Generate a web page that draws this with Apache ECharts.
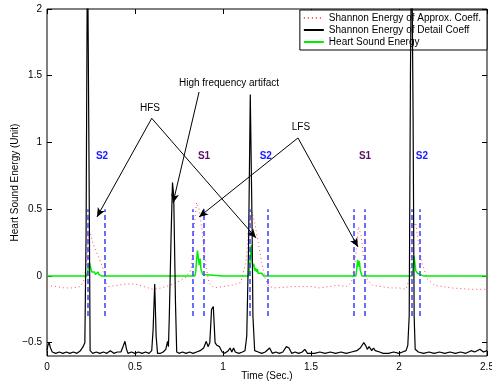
<!DOCTYPE html>
<html>
<head>
<meta charset="utf-8">
<script src="https://cdn.jsdelivr.net/npm/echarts@6/dist/echarts.min.js"></script>
<style>
  html, body { margin: 0; padding: 0; background: #fff; }
  #chart { width: 492px; height: 385px; }
</style>
</head>
<body>
<div id="chart"></div>
<script>
// Shannon energy of detail coefficients (black)
const detailT = [0.00,0.005,0.012,0.02,0.03,0.05,0.07,0.09,0.11,0.13,0.15,0.17,0.19,0.205,0.215,0.222,0.23,0.238,0.245,0.26,0.28,0.30,0.32,0.34,0.36,0.38,0.40,0.42,0.435,0.443,0.452,0.46,0.48,0.50,0.52,0.54,0.56,0.58,0.595,0.603,0.612,0.62,0.628,0.645,0.66,0.675,0.685,0.69,0.695,0.705,0.713,0.72,0.73,0.737,0.75,0.77,0.79,0.81,0.83,0.85,0.87,0.89,0.905,0.915,0.925,0.935,0.945,0.955,0.965,0.98,0.995,1.01,1.03,1.04,1.05,1.06,1.07,1.09,1.11,1.125,1.135,1.145,1.155,1.165,1.17,1.18,1.20,1.22,1.24,1.265,1.28,1.30,1.32,1.34,1.36,1.375,1.39,1.41,1.43,1.45,1.465,1.48,1.50,1.52,1.55,1.58,1.61,1.64,1.67,1.70,1.73,1.76,1.78,1.80,1.81,1.82,1.83,1.845,1.855,1.865,1.875,1.89,1.91,1.94,1.97,2.00,2.02,2.04,2.05,2.058,2.065,2.072,2.08,2.086,2.092,2.11,2.14,2.17,2.20,2.23,2.26,2.29,2.32,2.35,2.38,2.41,2.43,2.46,2.48,2.50];
const detailV = [-0.56,-0.52,-0.50,-0.54,-0.57,-0.58,-0.57,-0.58,-0.57,-0.58,-0.57,-0.58,-0.56,-0.53,-0.50,0.30,2.60,1.00,-0.56,-0.58,-0.57,-0.58,-0.57,-0.58,-0.56,-0.58,-0.57,-0.57,-0.52,-0.49,-0.55,-0.58,-0.57,-0.58,-0.57,-0.58,-0.57,-0.58,-0.56,-0.40,-0.06,-0.45,-0.58,-0.58,-0.57,-0.55,-0.49,-0.53,-0.30,0.30,0.70,0.60,-0.20,-0.57,-0.58,-0.57,-0.58,-0.57,-0.58,-0.57,-0.56,-0.54,-0.49,-0.53,-0.50,-0.25,-0.23,-0.50,-0.52,-0.53,-0.57,-0.58,-0.56,-0.54,-0.57,-0.54,-0.57,-0.58,-0.57,-0.56,-0.45,0.20,1.36,0.40,-0.30,-0.56,-0.57,-0.58,-0.57,-0.54,-0.58,-0.57,-0.58,-0.57,-0.53,-0.54,-0.58,-0.57,-0.58,-0.57,-0.55,-0.58,-0.58,-0.58,-0.57,-0.58,-0.57,-0.58,-0.57,-0.58,-0.57,-0.56,-0.54,-0.50,-0.52,-0.55,-0.53,-0.56,-0.54,-0.56,-0.55,-0.57,-0.58,-0.58,-0.57,-0.58,-0.57,-0.56,-0.52,-0.30,1.50,2.60,1.20,-0.30,-0.55,-0.57,-0.58,-0.57,-0.58,-0.57,-0.58,-0.57,-0.58,-0.57,-0.58,-0.56,-0.57,-0.55,-0.57,-0.56];

// Shannon energy of approximation coefficients (red dotted)
const approxT = [0.00,0.05,0.10,0.15,0.19,0.21,0.225,0.235,0.245,0.26,0.28,0.30,0.32,0.335,0.35,0.40,0.45,0.50,0.55,0.60,0.65,0.70,0.75,0.79,0.82,0.835,0.85,0.865,0.88,0.90,0.92,0.95,1.00,1.05,1.10,1.13,1.15,1.165,1.18,1.20,1.22,1.24,1.26,1.30,1.40,1.50,1.55,1.60,1.65,1.70,1.73,1.75,1.77,1.785,1.80,1.82,1.85,1.90,1.95,2.00,2.04,2.065,2.08,2.095,2.11,2.13,2.16,2.20,2.30,2.40,2.50];
const approxV = [-0.07,-0.08,-0.09,-0.09,-0.08,-0.03,0.10,0.30,0.33,0.25,0.18,0.12,0.05,-0.05,-0.08,-0.07,-0.06,-0.06,-0.08,-0.10,-0.09,-0.07,-0.04,-0.01,0.05,0.35,0.55,0.50,0.35,0.10,-0.05,-0.09,-0.08,-0.07,-0.05,0.10,0.40,0.48,0.40,0.25,0.10,-0.02,-0.08,-0.09,-0.08,-0.08,-0.09,-0.08,-0.07,-0.08,-0.05,0.10,0.37,0.30,0.12,-0.03,-0.07,-0.08,-0.09,-0.09,-0.10,0.00,0.35,0.40,0.25,0.10,-0.02,-0.07,-0.09,-0.10,-0.10];

// Heart sound energy (green)
const energyT = [0.00,0.225,0.23,0.235,0.24,0.245,0.25,0.255,0.26,0.265,0.27,0.275,0.28,0.285,0.29,0.295,0.30,0.31,0.50,0.505,0.51,0.84,0.845,0.85,0.855,0.86,0.865,0.87,0.875,0.88,0.885,0.89,1.00,1.005,1.01,1.145,1.15,1.155,1.16,1.165,1.17,1.175,1.18,1.185,1.19,1.195,1.20,1.205,1.21,1.22,1.23,1.755,1.76,1.765,1.77,1.775,1.78,1.785,1.79,2.075,2.08,2.085,2.09,2.095,2.10,2.105,2.11,2.12,2.13,2.14,2.50];
const energyV = [0,0,0.02,0.06,0.10,0.08,0.05,0.03,0.04,0.02,0.03,0.01,0.02,0.01,0.03,0.01,0.02,0,0,0.01,0,0,0.03,0.12,0.19,0.18,0.08,0.13,0.05,0.04,0.01,0,0,0.01,0,0,0.05,0.14,0.23,0.12,0.07,0.09,0.04,0.06,0.03,0.05,0.02,0.03,0.01,0.02,0,0,0.05,0.12,0.07,0.11,0.04,0.02,0,0,0.06,0.15,0.10,0.04,0.03,0.02,0.03,0.01,0.02,0,0];

// segment boundaries (blue dashed)
const boundaries = [0.229,0.330,0.828,0.892,1.152,1.252,1.744,1.803,2.072,2.119];
const segLabels = [['S2',0.3125],['S1',0.892],['S2',1.243],['S1',1.807],['S2',2.13]];
const yTicks = [-0.5,0,0.5,1,1.5,2];

const zip = (t, v) => t.map((x, i) => [x, v[i]]);
const FONT = 'Liberation Sans, Arial, Helvetica, sans-serif';
const fmt = v => String(v).replace('-', '\u2212');

const chart = echarts.init(document.getElementById('chart'));

const arrowLines = [
  [[0.595,1.181],[0.284,0.442]],
  [[0.595,1.181],[1.1875,0.285]],
  [[0.864,1.378],[0.716,0.547]],
  [[1.426,1.034],[0.864,0.442]],
  [[1.426,1.034],[1.767,0.217]]
];
const texts = [
  {t:'HFS', c:[0.585,1.26], color:'#000', bold:false},
  {t:'High frequency artifact', c:[1.034,1.446], color:'#000', bold:false},
  {t:'LFS', c:[1.443,1.116], color:'#000', bold:false}
].concat(segLabels.map(s => ({t:s[0], c:[s[1],0.899], color: s[0]==='S2' ? '#1a1aff' : '#5a1060', bold:true})));

const xBase = {
  type:'value', min:0, max:2.5, interval:0.5,
  axisLine:{show:false, onZero:false}, splitLine:{show:false},
  axisTick:{show:true, inside:true, length:5, lineStyle:{color:'#000'}}
};
const yBase = {
  type:'value', min:-0.6, max:2,
  axisLine:{show:false, onZero:false}, splitLine:{show:false},
  axisTick:{show:true, inside:true, length:5, customValues: yTicks, lineStyle:{color:'#000'}}
};

chart.setOption({
  animation:false,
  backgroundColor:'#fff',
  textStyle:{fontFamily:FONT},
  grid:{left:47, right:5, top:9, bottom:29, containLabel:false, outerBoundsMode:'none',
    show:true, borderColor:'#000', borderWidth:1, backgroundColor:'transparent'},
  legend:{
    orient:'vertical', right:5, top:10,
    backgroundColor:'#fff', borderColor:'#000', borderWidth:1,
    padding:[3,6,3,3], itemGap:2, itemWidth:20, itemHeight:10,
    itemStyle:{opacity:0},
    textStyle:{fontSize:10, color:'#000', fontFamily:FONT},
    data:['Shannon Energy of Approx. Coeff.','Shannon Energy of Detail Coeff','Heart Sound Energy']
  },
  xAxis:[
    Object.assign({}, xBase, {position:'bottom', name:'Time (Sec.)', nameLocation:'middle', nameGap:15,
      nameMoveOverlap:false,
      nameTextStyle:{fontSize:10, color:'#000', fontFamily:FONT},
      axisLabel:{fontSize:10, color:'#000', margin:6, formatter: fmt}}),
    Object.assign({}, xBase, {position:'top', axisLabel:{show:false}})
  ],
  yAxis:[
    Object.assign({}, yBase, {position:'left', name:'Heart Sound Energy (Unit)', nameLocation:'middle', nameGap:27,
      nameMoveOverlap:false,
      nameTextStyle:{fontSize:10, color:'#000', fontFamily:FONT},
      axisLabel:{fontSize:10, color:'#000', margin:5, customValues: yTicks, formatter: fmt}}),
    Object.assign({}, yBase, {position:'right', axisLabel:{show:false}})
  ],
  series:[
    {
      name:'Shannon Energy of Approx. Coeff.', type:'line', symbol:'none', z:2,
      data: zip(approxT, approxV),
      lineStyle:{color:'#ff4d4d', width:1, type:[1,3]},
      itemStyle:{color:'#ff4d4d'}
    },
    {
      name:'Heart Sound Energy', type:'line', symbol:'none', z:3,
      data: zip(energyT, energyV),
      lineStyle:{color:'#00ee00', width:1.5},
      itemStyle:{color:'#00ee00'}
    },
    {
      name:'Shannon Energy of Detail Coeff', type:'line', symbol:'none', z:4,
      data: zip(detailT, detailV),
      lineStyle:{color:'#000', width:1.2},
      itemStyle:{color:'#000'}
    },
    {
      name:'annotations', type:'line', data:[], z:5,
      markLine:{
        silent:true, animation:false, symbol:['none','none'],
        label:{show:false},
        lineStyle:{color:'#3b3bff', width:2, type:[5,3], opacity:0.75},
        data: boundaries.map(b => [{coord:[b,-0.3]},{coord:[b,0.5]}])
      }
    },
    {
      name:'arrows', type:'line', data:[], z:6,
      markLine:{
        silent:true, animation:false, symbol:['none','arrow'], symbolSize:[6,9],
        label:{show:false},
        lineStyle:{color:'#000', width:1, type:'solid'},
        data: arrowLines.map(a => [{coord:a[0]},{coord:a[1]}])
      },
      markPoint:{
        silent:true, animation:false, symbol:'circle', symbolSize:1,
        itemStyle:{color:'rgba(0,0,0,0)'},
        data: texts.map(o => ({
          coord:o.c,
          label:{show:true, position:'inside', formatter:o.t, color:o.color, fontSize:10,
            fontWeight: o.bold ? 'bold' : 'normal', fontFamily:FONT}
        }))
      }
    }
  ]
});
</script>
</body>
</html>
